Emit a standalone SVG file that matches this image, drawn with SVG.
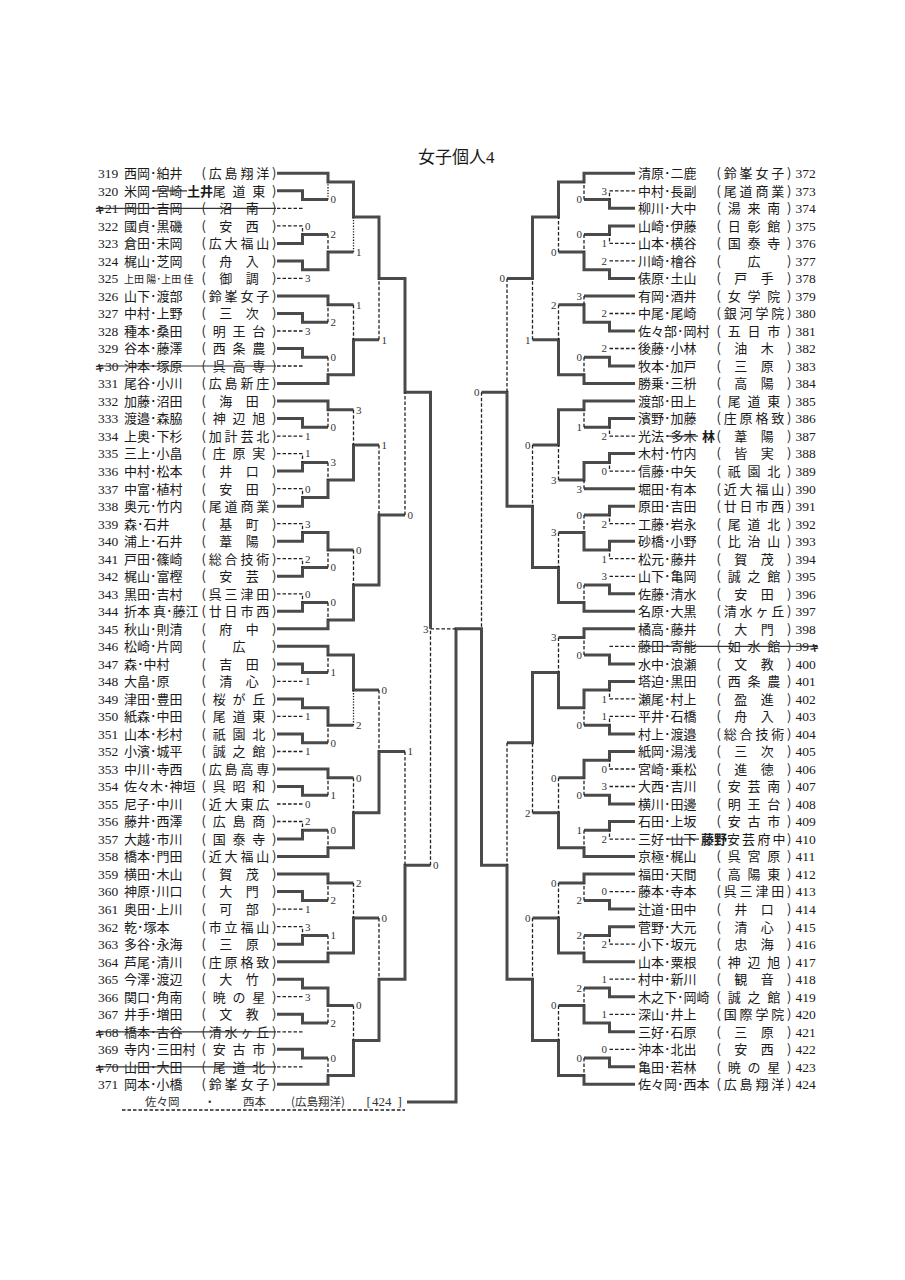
<svg xmlns="http://www.w3.org/2000/svg" width="905" height="1280" viewBox="0 0 905 1280">
<style>
text{font-family:"Noto Sans CJK JP",sans-serif;font-size:13px;fill:#1a1a1a}
.n{font-family:"Liberation Serif",serif;font-size:13.5px}
.sm{font-size:10px}
.s{font-family:"Liberation Serif",serif;font-size:11px;fill:#333}
.e{text-anchor:end}
.b{font-weight:700}
.q{font-weight:700;font-size:9.5px}
.w{fill:none;stroke:#4a4a4a;stroke-width:3}
.d{fill:none;stroke:#222;stroke-width:1.3;stroke-dasharray:3.5 2}
.o{fill:none;stroke:#222;stroke-width:1.3;stroke-dasharray:1.3 1.5}
.k{fill:none;stroke:#333;stroke-width:1.2}
.ti{font-size:17px}
.ft{font-size:11.5px;fill:#333}
</style>
<rect width="905" height="1280" fill="#fff"/>
<text class="ti" x="418" y="163">女子個人<tspan font-family="Liberation Serif">4</tspan></text>

<g id="connectors">
<path class="w" d="M277 173.3H328V182.1H353.5V217.1H379V278.4H405V392.3H430.5V628.8
M277 190.8H302.5V199.6H328
M277 243.4H302.5V234.6H328
M277 260.9H302.5V269.7H328V252.1H353.5
M277 295.9H328V304.7H353.5
M277 313.5H302.5V322.2H328
M277 348.5H302.5V357.3H328
M277 383.5H328V374.8H353.5V339.7H379
M277 401.1H328V409.8H353.5
M277 418.6H302.5V427.3H328
M277 471.1H302.5V462.4H328
M277 506.2H302.5V497.4H328V479.9H353.5V444.9H379
M277 541.2H302.5V532.5H328V550H353.5
M277 576.3H302.5V567.5H328
M277 611.3H302.5V602.5H328
M277 628.8H328V620.1H353.5V585H379V514.9H405
M277 646.3H328V655.1H353.5V690.1H379
M277 663.9H302.5V672.6H328
M277 698.9H302.5V707.7H328V725.2H353.5
M277 733.9H302.5V742.7H328
M277 769H328V777.7H353.5
M277 786.5H302.5V795.3H328
M277 839.1H302.5V830.3H328
M277 856.6H328V847.8H353.5V812.8H379V751.5H405
M277 874.1H328V882.9H353.5
M277 891.6H302.5V900.4H328
M277 944.2H302.5V935.4H328
M277 961.7H328V952.9H353.5V917.9H379
M277 979.2H302.5V988H328V1005.5H353.5
M277 1014.3H302.5V1023H328
M277 1049.3H302.5V1058.1H328
M277 1084.3H328V1075.6H353.5V1040.5H379V979.2H405V865.3H430.5
M407 1101.9H456V628.8H481.5V865.3H507V979.2H532.5V1040.5H558.5V1075.6H584V1084.3H635
M635 173.3H584V182.1H558.5V217.1H532.5V278.4H507
M635 208.3H609.5V199.6H584
M635 225.9H609.5V234.6H584
M635 278.4H609.5V269.7H584V252.1H558.5
M635 295.9H584
M635 331H609.5V322.2H584V304.7H558.5
M635 366H609.5V357.3H584
M635 383.5H584V374.8H558.5V339.7H532.5
M635 401.1H584V409.8H558.5V444.9H532.5
M635 418.6H609.5V427.3H584
M635 453.6H609.5V462.4H584V479.9H558.5
M635 488.7H584
M635 506.2H609.5V514.9H584
M635 541.2H609.5V550H584V532.5H558.5
M635 593.8H609.5V585H584
M635 611.3H584V602.5H558.5V567.5H532.5V506.2H507V392.3H481.5
M635 628.8H584V637.6H558.5
M635 663.9H609.5V655.1H584
M635 681.4H609.5V690.1H584V707.7H558.5V672.6H532.5V742.7H507
M635 733.9H609.5V725.2H584
M635 751.5H609.5V760.2H584V777.7H558.5
M635 804H609.5V795.3H584
M635 821.5H609.5V830.3H584
M635 856.6H584V847.8H558.5V812.8H532.5
M635 874.1H584V882.9H558.5
M635 909.1H609.5V900.4H584
M635 926.7H609.5V935.4H584
M635 961.7H584V952.9H558.5V917.9H532.5
M635 996.7H609.5V988H584
M635 1031.8H609.5V1023H584V1005.5H558.5
M635 1066.8H609.5V1058.1H584"/>
<path class="d" d="M277 208.3H302.5
M277 225.9H302.5V234.6
M277 278.4H302.5
M277 331H302.5
M277 366H302.5
M277 436.1H302.5
M277 453.6H302.5V462.4
M277 488.7H302.5V497.4
M277 523.7H302.5V532.5
M277 558.7H302.5V567.5
M277 593.8H302.5V602.5
M277 681.4H302.5
M277 716.4H302.5
M277 751.5H302.5
M277 804H302.5
M277 821.5H302.5V830.3
M277 909.1H302.5
M277 926.7H302.5V935.4
M277 996.7H302.5
M277 1031.8H302.5
M277 1066.8H302.5
M328 234.6V252.1
M353.5 304.7V339.7
M328 322.2V304.7
M328 357.3V374.8
M379 339.7V278.4
M353.5 409.8V444.9
M328 427.3V409.8
M328 462.4V479.9
M379 444.9V514.9
M328 567.5V550
M353.5 550V585
M328 602.5V620.1
M405 514.9V392.3
M379 690.1V751.5
M328 672.6V655.1
M328 742.7V725.2
M353.5 777.7V812.8
M328 795.3V777.7
M328 830.3V847.8
M405 751.5V865.3
M353.5 882.9V917.9
M328 900.4V882.9
M328 935.4V952.9
M379 917.9V979.2
M353.5 1005.5V1040.5
M328 1023V1005.5
M328 1058.1V1075.6
M430.5 865.3V628.8
M430.5 628.8H456
M635 190.8H609.5V199.6
M635 243.4H609.5V234.6
M635 260.9H609.5
M635 313.5H609.5
M635 348.5H609.5
M635 436.1H609.5V427.3
M635 471.1H609.5V462.4
M635 523.7H609.5V514.9
M635 558.7H609.5V550
M635 576.3H609.5
M635 646.3H609.5
M635 698.9H609.5V690.1
M635 716.4H609.5V725.2
M635 769H609.5V760.2
M635 786.5H609.5
M635 839.1H609.5V830.3
M635 891.6H609.5
M635 944.2H609.5V935.4
M635 979.2H609.5
M635 1014.3H609.5
M635 1049.3H609.5
M584 199.6V182.1
M584 234.6V252.1
M558.5 252.1V217.1
M584 295.9V304.7
M558.5 304.7V339.7
M584 357.3V374.8
M532.5 339.7V278.4
M507 278.4V392.3
M584 427.3V409.8
M558.5 479.9V444.9
M584 488.7V479.9
M532.5 444.9V506.2
M584 514.9V532.5
M558.5 532.5V567.5
M584 585V602.5
M481.5 392.3V628.8
M558.5 637.6V672.6
M584 655.1V637.6
M584 725.2V707.7
M507 742.7V865.3
M558.5 777.7V812.8
M584 795.3V777.7
M584 830.3V847.8
M532.5 812.8V742.7
M558.5 882.9V917.9
M584 900.4V882.9
M584 935.4V952.9
M532.5 917.9V979.2
M584 988V1005.5
M558.5 1005.5V1040.5
M584 1058.1V1075.6
M122 1110H405"/>
<path class="o" d="M328 199.6V182.1M353.5 252.1V217.1M353.5 725.2V690.1"/>
</g>

<g id="scores">
<text class="s" x="330.5" y="203.4">0</text><text class="s" x="305" y="229.7">0</text><text class="s" x="330.5" y="238.4">2</text><text class="s" x="356" y="255.9">1</text><text class="s" x="305" y="282.2">3</text><text class="s" x="356" y="308.5">1</text><text class="s" x="330.5" y="326">2</text><text class="s" x="305" y="334.8">3</text><text class="s" x="330.5" y="361.1">0</text><text class="s" x="381.5" y="343.5">1</text>
<text class="s" x="356" y="413.6">3</text><text class="s" x="330.5" y="431.1">0</text><text class="s" x="305" y="439.9">1</text><text class="s" x="305" y="457.4">1</text><text class="s" x="330.5" y="466.2">3</text><text class="s" x="305" y="492.5">0</text><text class="s" x="381.5" y="448.7">1</text><text class="s" x="305" y="527.5">3</text><text class="s" x="356" y="553.8">0</text><text class="s" x="305" y="562.5">2</text><text class="s" x="330.5" y="571.3">0</text><text class="s" x="305" y="597.6">0</text><text class="s" x="330.5" y="606.3">0</text><text class="s" x="407.5" y="518.7">0</text>
<text class="s" x="381.5" y="693.9">0</text><text class="s" x="330.5" y="676.4">1</text><text class="s" x="305" y="685.2">1</text><text class="s" x="356" y="729">2</text><text class="s" x="305" y="720.2">1</text><text class="s" x="330.5" y="746.5">0</text><text class="s" x="305" y="755.3">1</text><text class="s" x="356" y="781.5">0</text><text class="s" x="330.5" y="799.1">1</text><text class="s" x="305" y="807.8">0</text><text class="s" x="305" y="825.3">2</text><text class="s" x="330.5" y="834.1">0</text><text class="s" x="407.5" y="755.3">1</text>
<text class="s" x="356" y="886.7">2</text><text class="s" x="330.5" y="904.2">2</text><text class="s" x="305" y="912.9">1</text><text class="s" x="305" y="930.5">3</text><text class="s" x="330.5" y="939.2">1</text><text class="s" x="381.5" y="921.7">0</text><text class="s" x="356" y="1009.3">0</text><text class="s" x="305" y="1000.5">3</text><text class="s" x="330.5" y="1026.8">2</text><text class="s" x="330.5" y="1061.9">0</text><text class="s" x="433" y="869.1">0</text><text class="s e" x="428.5" y="632.6">3</text>
<text class="s e" x="607" y="194.6">3</text><text class="s e" x="582" y="203.4">0</text><text class="s e" x="582" y="238.4">0</text><text class="s e" x="607" y="247.2">1</text><text class="s e" x="607" y="264.7">2</text><text class="s e" x="556.5" y="255.9">0</text><text class="s e" x="582" y="299.7">3</text><text class="s e" x="607" y="317.3">2</text><text class="s e" x="556.5" y="308.5">2</text><text class="s e" x="607" y="352.3">2</text><text class="s e" x="582" y="361.1">0</text><text class="s e" x="530.5" y="343.5">1</text><text class="s e" x="505" y="282.2">0</text>
<text class="s e" x="530.5" y="448.7">0</text><text class="s e" x="582" y="431.1">1</text><text class="s e" x="607" y="439.9">2</text><text class="s e" x="556.5" y="483.7">3</text><text class="s e" x="607" y="474.9">0</text><text class="s e" x="582" y="492.5">3</text><text class="s e" x="582" y="518.7">0</text><text class="s e" x="607" y="527.5">2</text><text class="s e" x="556.5" y="536.3">3</text><text class="s e" x="607" y="562.5">1</text><text class="s e" x="607" y="580.1">3</text><text class="s e" x="582" y="588.8">0</text><text class="s e" x="479.5" y="396.1">0</text>
<text class="s e" x="556.5" y="641.4">3</text><text class="s e" x="582" y="658.9">0</text><text class="s e" x="607" y="702.7">1</text><text class="s e" x="607" y="720.2">1</text><text class="s e" x="582" y="729">0</text><text class="s e" x="556.5" y="781.5">0</text><text class="s e" x="607" y="772.8">0</text><text class="s e" x="607" y="790.3">3</text><text class="s e" x="582" y="799.1">0</text><text class="s e" x="582" y="834.1">1</text><text class="s e" x="607" y="842.9">2</text><text class="s e" x="530.5" y="816.6">2</text>
<text class="s e" x="556.5" y="886.7">0</text><text class="s e" x="607" y="895.4">0</text><text class="s e" x="582" y="904.2">2</text><text class="s e" x="582" y="939.2">2</text><text class="s e" x="607" y="948">2</text><text class="s e" x="530.5" y="921.7">0</text><text class="s e" x="607" y="983">1</text><text class="s e" x="582" y="991.8">2</text><text class="s e" x="607" y="1018.1">1</text><text class="s e" x="556.5" y="1009.3">0</text><text class="s e" x="607" y="1053.1">0</text><text class="s e" x="582" y="1061.9">0</text>
</g>

<g id="n319"><text y="178.1"><tspan class="n" x="98">319</tspan><tspan x="124">西岡･絈井</tspan><tspan x="201.5 208.8 224.6 240.4 256.2 272">(広島翔洋)</tspan></text></g>
<g id="n320"><text y="195.6"><tspan class="n" x="98">320</tspan><tspan x="124">米岡･宮崎</tspan><tspan class="b" x="187">土井</tspan><tspan x="212.8 232.5 252.3 272">尾道東)</tspan></text><path class="k" d="M153 190.8H187"/></g>
<g id="n321"><text y="213.1"><tspan class="q" x="95">キ</tspan><tspan class="n" x="105">21</tspan><tspan x="124">岡田･吉岡</tspan><tspan x="201.5 219.3 245.7 272">(沼南)</tspan></text><path class="k" d="M98 208.3H276"/></g>
<g id="n322"><text y="230.7"><tspan class="n" x="98">322</tspan><tspan x="124">國貞･黒磯</tspan><tspan x="201.5 219.3 245.7 272">(安西)</tspan></text></g>
<g id="n323"><text y="248.2"><tspan class="n" x="98">323</tspan><tspan x="124">倉田･末岡</tspan><tspan x="201.5 208.8 224.6 240.4 256.2 272">(広大福山)</tspan></text></g>
<g id="n324"><text y="265.7"><tspan class="n" x="98">324</tspan><tspan x="124">梶山･芝岡</tspan><tspan x="201.5 219.3 245.7 272">(舟入)</tspan></text></g>
<g id="n325"><text y="283.2"><tspan class="n" x="98">325</tspan><tspan class="sm" x="124">上田 陽･上田 佳</tspan><tspan x="201.5 219.3 245.7 272">(御調)</tspan></text></g>
<g id="n326"><text y="300.7"><tspan class="n" x="98">326</tspan><tspan x="124">山下･渡部</tspan><tspan x="201.5 208.8 224.6 240.4 256.2 272">(鈴峯女子)</tspan></text></g>
<g id="n327"><text y="318.3"><tspan class="n" x="98">327</tspan><tspan x="124">中村･上野</tspan><tspan x="201.5 219.3 245.7 272">(三次)</tspan></text></g>
<g id="n328"><text y="335.8"><tspan class="n" x="98">328</tspan><tspan x="124">種本･桑田</tspan><tspan x="201.5 212.8 232.5 252.3 272">(明王台)</tspan></text></g>
<g id="n329"><text y="353.3"><tspan class="n" x="98">329</tspan><tspan x="124">谷本･藤澤</tspan><tspan x="201.5 212.8 232.5 252.3 272">(西条農)</tspan></text></g>
<g id="n330"><text y="370.8"><tspan class="q" x="95">キ</tspan><tspan class="n" x="105">30</tspan><tspan x="124">沖本･塚原</tspan><tspan x="201.5 212.8 232.5 252.3 272">(呉高専)</tspan></text><path class="k" d="M98 366H276"/></g>
<g id="n331"><text y="388.3"><tspan class="n" x="98">331</tspan><tspan x="124">尾谷･小川</tspan><tspan x="201.5 208.8 224.6 240.4 256.2 272">(広島新庄)</tspan></text></g>
<g id="n332"><text y="405.9"><tspan class="n" x="98">332</tspan><tspan x="124">加藤･沼田</tspan><tspan x="201.5 219.3 245.7 272">(海田)</tspan></text></g>
<g id="n333"><text y="423.4"><tspan class="n" x="98">333</tspan><tspan x="124">渡邉･森脇</tspan><tspan x="201.5 212.8 232.5 252.3 272">(神辺旭)</tspan></text></g>
<g id="n334"><text y="440.9"><tspan class="n" x="98">334</tspan><tspan x="124">上奥･下杉</tspan><tspan x="201.5 208.8 224.6 240.4 256.2 272">(加計芸北)</tspan></text></g>
<g id="n335"><text y="458.4"><tspan class="n" x="98">335</tspan><tspan x="124">三上･小畠</tspan><tspan x="201.5 212.8 232.5 252.3 272">(庄原実)</tspan></text></g>
<g id="n336"><text y="475.9"><tspan class="n" x="98">336</tspan><tspan x="124">中村･松本</tspan><tspan x="201.5 219.3 245.7 272">(井口)</tspan></text></g>
<g id="n337"><text y="493.5"><tspan class="n" x="98">337</tspan><tspan x="124">中富･植村</tspan><tspan x="201.5 219.3 245.7 272">(安田)</tspan></text></g>
<g id="n338"><text y="511"><tspan class="n" x="98">338</tspan><tspan x="124">奥元･竹内</tspan><tspan x="201.5 208.8 224.6 240.4 256.2 272">(尾道商業)</tspan></text></g>
<g id="n339"><text y="528.5"><tspan class="n" x="98">339</tspan><tspan x="124">森･石井</tspan><tspan x="201.5 219.3 245.7 272">(基町)</tspan></text></g>
<g id="n340"><text y="546"><tspan class="n" x="98">340</tspan><tspan x="124">浦上･石井</tspan><tspan x="201.5 219.3 245.7 272">(葦陽)</tspan></text></g>
<g id="n341"><text y="563.5"><tspan class="n" x="98">341</tspan><tspan x="124">戸田･篠崎</tspan><tspan x="201.5 208.8 224.6 240.4 256.2 272">(総合技術)</tspan></text></g>
<g id="n342"><text y="581.1"><tspan class="n" x="98">342</tspan><tspan x="124">梶山･富樫</tspan><tspan x="201.5 219.3 245.7 272">(安芸)</tspan></text></g>
<g id="n343"><text y="598.6"><tspan class="n" x="98">343</tspan><tspan x="124">黒田･吉村</tspan><tspan x="201.5 208.8 224.6 240.4 256.2 272">(呉三津田)</tspan></text></g>
<g id="n344"><text y="616.1"><tspan class="n" x="98">344</tspan><tspan x="124">折本 真･藤江</tspan><tspan x="201.5 208.8 224.6 240.4 256.2 272">(廿日市西)</tspan></text></g>
<g id="n345"><text y="633.6"><tspan class="n" x="98">345</tspan><tspan x="124">秋山･則清</tspan><tspan x="201.5 219.3 245.7 272">(府中)</tspan></text></g>
<g id="n346"><text y="651.1"><tspan class="n" x="98">346</tspan><tspan x="124">松崎･片岡</tspan><tspan x="201.5 232.5 272">(広)</tspan></text></g>
<g id="n347"><text y="668.7"><tspan class="n" x="98">347</tspan><tspan x="124">森･中村</tspan><tspan x="201.5 219.3 245.7 272">(吉田)</tspan></text></g>
<g id="n348"><text y="686.2"><tspan class="n" x="98">348</tspan><tspan x="124">大畠･原</tspan><tspan x="201.5 219.3 245.7 272">(清心)</tspan></text></g>
<g id="n349"><text y="703.7"><tspan class="n" x="98">349</tspan><tspan x="124">津田･豊田</tspan><tspan x="201.5 212.8 232.5 252.3 272">(桜が丘)</tspan></text></g>
<g id="n350"><text y="721.2"><tspan class="n" x="98">350</tspan><tspan x="124">紙森･中田</tspan><tspan x="201.5 212.8 232.5 252.3 272">(尾道東)</tspan></text></g>
<g id="n351"><text y="738.7"><tspan class="n" x="98">351</tspan><tspan x="124">山本･杉村</tspan><tspan x="201.5 212.8 232.5 252.3 272">(祇園北)</tspan></text></g>
<g id="n352"><text y="756.3"><tspan class="n" x="98">352</tspan><tspan x="124">小濱･城平</tspan><tspan x="201.5 212.8 232.5 252.3 272">(誠之館)</tspan></text></g>
<g id="n353"><text y="773.8"><tspan class="n" x="98">353</tspan><tspan x="124">中川･寺西</tspan><tspan x="201.5 208.8 224.6 240.4 256.2 272">(広島高専)</tspan></text></g>
<g id="n354"><text y="791.3"><tspan class="n" x="98">354</tspan><tspan x="124">佐々木･神垣</tspan><tspan x="201.5 212.8 232.5 252.3 272">(呉昭和)</tspan></text></g>
<g id="n355"><text y="808.8"><tspan class="n" x="98">355</tspan><tspan x="124">尼子･中川</tspan><tspan x="201.5 208.8 224.6 240.4 256.2">(近大東広</tspan></text></g>
<g id="n356"><text y="826.3"><tspan class="n" x="98">356</tspan><tspan x="124">藤井･西澤</tspan><tspan x="201.5 212.8 232.5 252.3 272">(広島商)</tspan></text></g>
<g id="n357"><text y="843.9"><tspan class="n" x="98">357</tspan><tspan x="124">大越･市川</tspan><tspan x="201.5 212.8 232.5 252.3 272">(国泰寺)</tspan></text></g>
<g id="n358"><text y="861.4"><tspan class="n" x="98">358</tspan><tspan x="124">橋本･門田</tspan><tspan x="201.5 208.8 224.6 240.4 256.2 272">(近大福山)</tspan></text></g>
<g id="n359"><text y="878.9"><tspan class="n" x="98">359</tspan><tspan x="124">横田･木山</tspan><tspan x="201.5 219.3 245.7 272">(賀茂)</tspan></text></g>
<g id="n360"><text y="896.4"><tspan class="n" x="98">360</tspan><tspan x="124">神原･川口</tspan><tspan x="201.5 219.3 245.7 272">(大門)</tspan></text></g>
<g id="n361"><text y="913.9"><tspan class="n" x="98">361</tspan><tspan x="124">奥田･上川</tspan><tspan x="201.5 219.3 245.7 272">(可部)</tspan></text></g>
<g id="n362"><text y="931.5"><tspan class="n" x="98">362</tspan><tspan x="124">乾･塚本</tspan><tspan x="201.5 208.8 224.6 240.4 256.2 272">(市立福山)</tspan></text></g>
<g id="n363"><text y="949"><tspan class="n" x="98">363</tspan><tspan x="124">多谷･永海</tspan><tspan x="201.5 219.3 245.7 272">(三原)</tspan></text></g>
<g id="n364"><text y="966.5"><tspan class="n" x="98">364</tspan><tspan x="124">芦尾･清川</tspan><tspan x="201.5 208.8 224.6 240.4 256.2 272">(庄原格致)</tspan></text></g>
<g id="n365"><text y="984"><tspan class="n" x="98">365</tspan><tspan x="124">今澤･渡辺</tspan><tspan x="201.5 219.3 245.7 272">(大竹)</tspan></text></g>
<g id="n366"><text y="1001.5"><tspan class="n" x="98">366</tspan><tspan x="124">関口･角南</tspan><tspan x="201.5 212.8 232.5 252.3 272">(暁の星)</tspan></text></g>
<g id="n367"><text y="1019.1"><tspan class="n" x="98">367</tspan><tspan x="124">井手･増田</tspan><tspan x="201.5 219.3 245.7 272">(文教)</tspan></text></g>
<g id="n368"><text y="1036.6"><tspan class="q" x="95">キ</tspan><tspan class="n" x="105">68</tspan><tspan x="124">橋本･古谷</tspan><tspan x="201.5 208.8 224.6 240.4 256.2 272">(清水ヶ丘)</tspan></text><path class="k" d="M98 1031.8H276"/></g>
<g id="n369"><text y="1054.1"><tspan class="n" x="98">369</tspan><tspan x="124">寺内･三田村</tspan><tspan x="201.5 212.8 232.5 252.3 272">(安古市)</tspan></text></g>
<g id="n370"><text y="1071.6"><tspan class="q" x="95">キ</tspan><tspan class="n" x="105">70</tspan><tspan x="124">山田･大田</tspan><tspan x="201.5 212.8 232.5 252.3 272">(尾道北)</tspan></text><path class="k" d="M98 1066.8H276"/></g>
<g id="n371"><text y="1089.1"><tspan class="n" x="98">371</tspan><tspan x="124">岡本･小橋</tspan><tspan x="201.5 208.8 224.6 240.4 256.2 272">(鈴峯女子)</tspan></text></g>
<g id="n424ref"><text class="ft" y="1105.8"><tspan x="145">佐々岡</tspan><tspan x="204">・</tspan><tspan x="243">西本</tspan><tspan x="291">(広島翔洋)</tspan><tspan font-family="Liberation Serif" font-size="13" x="366.5">[</tspan><tspan font-family="Liberation Serif" font-size="13" x="372">424</tspan><tspan font-family="Liberation Serif" font-size="13" x="397.5">]</tspan></text></g>

<g id="n372"><text y="178.1"><tspan x="638">清原･二鹿</tspan><tspan x="716.5 723.8 739.6 755.4 771.2 787">(鈴峯女子)</tspan><tspan class="n" x="795.5">372</tspan></text></g>
<g id="n373"><text y="195.6"><tspan x="638">中村･長副</tspan><tspan x="716.5 723.8 739.6 755.4 771.2 787">(尾道商業)</tspan><tspan class="n" x="795.5">373</tspan></text></g>
<g id="n374"><text y="213.1"><tspan x="638">柳川･大中</tspan><tspan x="716.5 727.8 747.5 767.3 787">(湯来南)</tspan><tspan class="n" x="795.5">374</tspan></text></g>
<g id="n375"><text y="230.7"><tspan x="638">山崎･伊藤</tspan><tspan x="716.5 727.8 747.5 767.3 787">(日彰館)</tspan><tspan class="n" x="795.5">375</tspan></text></g>
<g id="n376"><text y="248.2"><tspan x="638">山本･横谷</tspan><tspan x="716.5 727.8 747.5 767.3 787">(国泰寺)</tspan><tspan class="n" x="795.5">376</tspan></text></g>
<g id="n377"><text y="265.7"><tspan x="638">川崎･檜谷</tspan><tspan x="716.5 747.5 787">(広)</tspan><tspan class="n" x="795.5">377</tspan></text></g>
<g id="n378"><text y="283.2"><tspan x="638">俵原･土山</tspan><tspan x="716.5 734.3 760.7 787">(戸手)</tspan><tspan class="n" x="795.5">378</tspan></text></g>
<g id="n379"><text y="300.7"><tspan x="638">有岡･酒井</tspan><tspan x="716.5 727.8 747.5 767.3 787">(女学院)</tspan><tspan class="n" x="795.5">379</tspan></text></g>
<g id="n380"><text y="318.3"><tspan x="638">中尾･尾崎</tspan><tspan x="716.5 723.8 739.6 755.4 771.2 787">(銀河学院)</tspan><tspan class="n" x="795.5">380</tspan></text></g>
<g id="n381"><text y="335.8"><tspan x="638">佐々部･岡村</tspan><tspan x="716.5 727.8 747.5 767.3 787">(五日市)</tspan><tspan class="n" x="795.5">381</tspan></text></g>
<g id="n382"><text y="353.3"><tspan x="638">後藤･小林</tspan><tspan x="716.5 734.3 760.7 787">(油木)</tspan><tspan class="n" x="795.5">382</tspan></text></g>
<g id="n383"><text y="370.8"><tspan x="638">牧本･加戸</tspan><tspan x="716.5 734.3 760.7 787">(三原)</tspan><tspan class="n" x="795.5">383</tspan></text></g>
<g id="n384"><text y="388.3"><tspan x="638">勝乗･三枡</tspan><tspan x="716.5 734.3 760.7 787">(高陽)</tspan><tspan class="n" x="795.5">384</tspan></text></g>
<g id="n385"><text y="405.9"><tspan x="638">渡部･田上</tspan><tspan x="716.5 727.8 747.5 767.3 787">(尾道東)</tspan><tspan class="n" x="795.5">385</tspan></text></g>
<g id="n386"><text y="423.4"><tspan x="638">濱野･加藤</tspan><tspan x="716.5 723.8 739.6 755.4 771.2 787">(庄原格致)</tspan><tspan class="n" x="795.5">386</tspan></text></g>
<g id="n387"><text y="440.9"><tspan x="638">光法･多木</tspan><tspan class="b" x="702">林</tspan><tspan x="716.5 734.3 760.7 787">(葦陽)</tspan><tspan class="n" x="795.5">387</tspan></text><path class="k" d="M668 436.1H698"/></g>
<g id="n388"><text y="458.4"><tspan x="638">木村･竹内</tspan><tspan x="716.5 734.3 760.7 787">(皆実)</tspan><tspan class="n" x="795.5">388</tspan></text></g>
<g id="n389"><text y="475.9"><tspan x="638">信藤･中矢</tspan><tspan x="716.5 727.8 747.5 767.3 787">(祇園北)</tspan><tspan class="n" x="795.5">389</tspan></text></g>
<g id="n390"><text y="493.5"><tspan x="638">堀田･有本</tspan><tspan x="716.5 723.8 739.6 755.4 771.2 787">(近大福山)</tspan><tspan class="n" x="795.5">390</tspan></text></g>
<g id="n391"><text y="511"><tspan x="638">原田･吉田</tspan><tspan x="716.5 723.8 739.6 755.4 771.2 787">(廿日市西)</tspan><tspan class="n" x="795.5">391</tspan></text></g>
<g id="n392"><text y="528.5"><tspan x="638">工藤･岩永</tspan><tspan x="716.5 727.8 747.5 767.3 787">(尾道北)</tspan><tspan class="n" x="795.5">392</tspan></text></g>
<g id="n393"><text y="546"><tspan x="638">砂橋･小野</tspan><tspan x="716.5 727.8 747.5 767.3 787">(比治山)</tspan><tspan class="n" x="795.5">393</tspan></text></g>
<g id="n394"><text y="563.5"><tspan x="638">松元･藤井</tspan><tspan x="716.5 734.3 760.7 787">(賀茂)</tspan><tspan class="n" x="795.5">394</tspan></text></g>
<g id="n395"><text y="581.1"><tspan x="638">山下･亀岡</tspan><tspan x="716.5 727.8 747.5 767.3 787">(誠之館)</tspan><tspan class="n" x="795.5">395</tspan></text></g>
<g id="n396"><text y="598.6"><tspan x="638">佐藤･清水</tspan><tspan x="716.5 734.3 760.7 787">(安田)</tspan><tspan class="n" x="795.5">396</tspan></text></g>
<g id="n397"><text y="616.1"><tspan x="638">名原･大黒</tspan><tspan x="716.5 723.8 739.6 755.4 771.2 787">(清水ヶ丘)</tspan><tspan class="n" x="795.5">397</tspan></text></g>
<g id="n398"><text y="633.6"><tspan x="638">橘高･藤井</tspan><tspan x="716.5 734.3 760.7 787">(大門)</tspan><tspan class="n" x="795.5">398</tspan></text></g>
<g id="n399"><text y="651.1"><tspan x="638">藤田･寄能</tspan><tspan x="716.5 727.8 747.5 767.3 787">(如水館)</tspan><tspan class="n" x="795.5">39</tspan><tspan class="q" x="809.5">キ</tspan></text><path class="k" d="M638 646.3H818"/></g>
<g id="n400"><text y="668.7"><tspan x="638">水中･浪瀬</tspan><tspan x="716.5 734.3 760.7 787">(文教)</tspan><tspan class="n" x="795.5">400</tspan></text></g>
<g id="n401"><text y="686.2"><tspan x="638">塔迫･黒田</tspan><tspan x="716.5 727.8 747.5 767.3 787">(西条農)</tspan><tspan class="n" x="795.5">401</tspan></text></g>
<g id="n402"><text y="703.7"><tspan x="638">瀬尾･村上</tspan><tspan x="716.5 734.3 760.7 787">(盈進)</tspan><tspan class="n" x="795.5">402</tspan></text></g>
<g id="n403"><text y="721.2"><tspan x="638">平井･石橋</tspan><tspan x="716.5 734.3 760.7 787">(舟入)</tspan><tspan class="n" x="795.5">403</tspan></text></g>
<g id="n404"><text y="738.7"><tspan x="638">村上･渡邉</tspan><tspan x="716.5 723.8 739.6 755.4 771.2 787">(総合技術)</tspan><tspan class="n" x="795.5">404</tspan></text></g>
<g id="n405"><text y="756.3"><tspan x="638">紙岡･湯浅</tspan><tspan x="716.5 734.3 760.7 787">(三次)</tspan><tspan class="n" x="795.5">405</tspan></text></g>
<g id="n406"><text y="773.8"><tspan x="638">宮崎･乗松</tspan><tspan x="716.5 734.3 760.7 787">(進徳)</tspan><tspan class="n" x="795.5">406</tspan></text></g>
<g id="n407"><text y="791.3"><tspan x="638">大西･吉川</tspan><tspan x="716.5 727.8 747.5 767.3 787">(安芸南)</tspan><tspan class="n" x="795.5">407</tspan></text></g>
<g id="n408"><text y="808.8"><tspan x="638">横川･田邊</tspan><tspan x="716.5 727.8 747.5 767.3 787">(明王台)</tspan><tspan class="n" x="795.5">408</tspan></text></g>
<g id="n409"><text y="826.3"><tspan x="638">石田･上坂</tspan><tspan x="716.5 727.8 747.5 767.3 787">(安古市)</tspan><tspan class="n" x="795.5">409</tspan></text></g>
<g id="n410"><text y="843.9"><tspan x="638">三好･山下</tspan><tspan class="b" x="701">藤野</tspan><tspan x="727 742 757.5 772.5 787">安芸府中)</tspan><tspan class="n" x="795.5">410</tspan></text><path class="k" d="M668 839.1H699"/></g>
<g id="n411"><text y="861.4"><tspan x="638">京極･梶山</tspan><tspan x="716.5 727.8 747.5 767.3 787">(呉宮原)</tspan><tspan class="n" x="795.5">411</tspan></text></g>
<g id="n412"><text y="878.9"><tspan x="638">福田･天間</tspan><tspan x="716.5 727.8 747.5 767.3 787">(高陽東)</tspan><tspan class="n" x="795.5">412</tspan></text></g>
<g id="n413"><text y="896.4"><tspan x="638">藤本･寺本</tspan><tspan x="716.5 723.8 739.6 755.4 771.2 787">(呉三津田)</tspan><tspan class="n" x="795.5">413</tspan></text></g>
<g id="n414"><text y="913.9"><tspan x="638">辻道･田中</tspan><tspan x="716.5 734.3 760.7 787">(井口)</tspan><tspan class="n" x="795.5">414</tspan></text></g>
<g id="n415"><text y="931.5"><tspan x="638">菅野･大元</tspan><tspan x="716.5 734.3 760.7 787">(清心)</tspan><tspan class="n" x="795.5">415</tspan></text></g>
<g id="n416"><text y="949"><tspan x="638">小下･坂元</tspan><tspan x="716.5 734.3 760.7 787">(忠海)</tspan><tspan class="n" x="795.5">416</tspan></text></g>
<g id="n417"><text y="966.5"><tspan x="638">山本･粟根</tspan><tspan x="716.5 727.8 747.5 767.3 787">(神辺旭)</tspan><tspan class="n" x="795.5">417</tspan></text></g>
<g id="n418"><text y="984"><tspan x="638">村中･新川</tspan><tspan x="716.5 734.3 760.7 787">(観音)</tspan><tspan class="n" x="795.5">418</tspan></text></g>
<g id="n419"><text y="1001.5"><tspan x="638">木之下･岡崎</tspan><tspan x="716.5 727.8 747.5 767.3 787">(誠之館)</tspan><tspan class="n" x="795.5">419</tspan></text></g>
<g id="n420"><text y="1019.1"><tspan x="638">深山･井上</tspan><tspan x="716.5 723.8 739.6 755.4 771.2 787">(国際学院)</tspan><tspan class="n" x="795.5">420</tspan></text></g>
<g id="n421"><text y="1036.6"><tspan x="638">三好･石原</tspan><tspan x="716.5 734.3 760.7 787">(三原)</tspan><tspan class="n" x="795.5">421</tspan></text></g>
<g id="n422"><text y="1054.1"><tspan x="638">沖本･北出</tspan><tspan x="716.5 734.3 760.7 787">(安西)</tspan><tspan class="n" x="795.5">422</tspan></text></g>
<g id="n423"><text y="1071.6"><tspan x="638">亀田･若林</tspan><tspan x="716.5 727.8 747.5 767.3 787">(暁の星)</tspan><tspan class="n" x="795.5">423</tspan></text></g>
<g id="n424"><text y="1089.1"><tspan x="638">佐々岡･西本</tspan><tspan x="716.5 723.8 739.6 755.4 771.2 787">(広島翔洋)</tspan><tspan class="n" x="795.5">424</tspan></text></g>
</svg>
